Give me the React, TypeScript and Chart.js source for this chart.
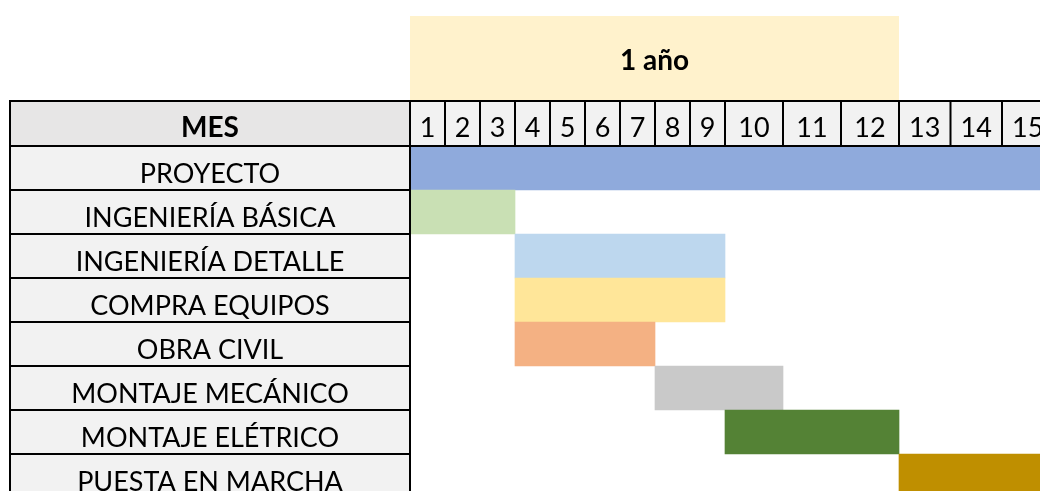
import React, { useEffect, useRef } from 'react';
import { Chart, registerables, LinearScale } from 'chart.js';

// ---------- data ----------
const tasks = [
  'PROYECTO',
  'INGENIERÍA BÁSICA',
  'INGENIERÍA DETALLE',
  'COMPRA EQUIPOS',
  'OBRA CIVIL',
  'MONTAJE MECÁNICO',
  'MONTAJE ELÉTRICO',
  'PUESTA EN MARCHA',
];
const startMonth = [1, 1, 4, 4, 4, 8, 10, 13];
const endMonth = [15, 3, 9, 9, 7, 10, 12, 15];
const monthLabels = ['1', '2', '3', '4', '5', '6', '7', '8', '9', '10', '11', '12', '13', '14', '15'];
const headerLabel = 'MES';
const yearLabel = '1 año';
const yearMonths = 12;
const barColors = ['#8FAADC', '#C9E0B4', '#BDD7EE', '#FFE699', '#F4B183', '#C9C9C9', '#548235', '#BF8F00'];

// ---------- layout (spreadsheet column widths in px) ----------
const columnWidths = [35, 35, 35, 35, 35, 35, 35, 35, 35, 58, 58, 58, 51.5, 51.5, 51.5];
const visibleGridWidth = 630;
const CANVAS_W = 1040;
const CANVAS_H = 500;
const TABLE_LEFT = 10;
const LABEL_COL_RIGHT = 410;
const BODY_TOP = 146;
const ROW_H = 44;
const FONT = 'Lato, "Open Sans", sans-serif';
const FONT_SIZE = 27;

function cumWidth(v: number): number {
  let x = 0;
  for (let i = 0; i < columnWidths.length; i++) {
    const w = columnWidths[i];
    if (v >= i + 1) x += w;
    else {
      x += w * Math.max(0, v - i);
      break;
    }
  }
  return x;
}

class MonthScale extends LinearScale {
  static id = 'monthScale';
  static defaults = { ...(LinearScale as any).defaults };
  getPixelForValue(value: number) {
    const s: any = this;
    return s.left + (cumWidth(value) * s.width) / visibleGridWidth;
  }
  getValueForPixel(pixel: number) {
    const s: any = this;
    const target = ((pixel - s.left) * visibleGridWidth) / s.width;
    let x = 0;
    for (let i = 0; i < columnWidths.length; i++) {
      if (x + columnWidths[i] >= target) return i + (target - x) / columnWidths[i];
      x += columnWidths[i];
    }
    return columnWidths.length;
  }
}

Chart.register(...registerables, MonthScale);

const tablePlugin = {
  id: 'sheetTable',
  beforeDatasetsDraw(chart: any) {
    const ctx = chart.ctx;
    const xs = chart.scales.x;
    const ys = chart.scales.y;
    const area = chart.chartArea;
    const rowH = ys.getPixelForValue(1) - ys.getPixelForValue(0);
    const headerTop = area.top - rowH - 1;
    const x0 = xs.getPixelForValue(0);
    const xYear = xs.getPixelForValue(yearMonths);
    ctx.save();
    // year band
    ctx.fillStyle = '#FFF2CC';
    ctx.fillRect(x0, headerTop - 85, xYear - x0, 85);
    ctx.fillStyle = '#000';
    ctx.font = `bold ${FONT_SIZE + 1}px ${FONT}`;
    ctx.textAlign = 'center';
    ctx.textBaseline = 'alphabetic';
    ctx.fillText(yearLabel, (x0 + xYear) / 2, 69.5);
    // header row
    ctx.fillStyle = '#E7E6E6';
    ctx.fillRect(TABLE_LEFT, headerTop, x0 - TABLE_LEFT, area.top - headerTop);
    ctx.fillStyle = '#F2F2F2';
    ctx.fillRect(x0, headerTop, area.right - x0, area.top - headerTop);
    // label column
    ctx.fillRect(TABLE_LEFT, area.top, x0 - TABLE_LEFT, area.bottom - area.top);
    // header texts
    ctx.fillStyle = '#000';
    ctx.font = `bold ${FONT_SIZE + 1}px ${FONT}`;
    ctx.fillText(headerLabel, (TABLE_LEFT + x0) / 2, area.top - 9);
    ctx.font = `${FONT_SIZE}px ${FONT}`;
    monthLabels.forEach((m, i) => {
      const a = xs.getPixelForValue(i);
      const b = xs.getPixelForValue(i + 1);
      ctx.fillText(m, (a + b) / 2, area.top - 9);
    });
    // task labels
    tasks.forEach((t, i) => {
      const yc = ys.getPixelForValue(i);
      ctx.fillText(t, (TABLE_LEFT + x0) / 2, yc + rowH / 2 - 7);
    });
    ctx.restore();
  },
  afterDatasetsDraw(chart: any) {
    const ctx = chart.ctx;
    const xs = chart.scales.x;
    const ys = chart.scales.y;
    const area = chart.chartArea;
    const rowH = ys.getPixelForValue(1) - ys.getPixelForValue(0);
    const headerTop = area.top - rowH - 1;
    const x0 = xs.getPixelForValue(0);
    ctx.save();
    ctx.strokeStyle = '#000';
    ctx.lineWidth = 2;
    ctx.beginPath();
    // horizontal header lines
    ctx.moveTo(TABLE_LEFT, headerTop);
    ctx.lineTo(area.right, headerTop);
    ctx.moveTo(TABLE_LEFT, area.top);
    ctx.lineTo(area.right, area.top);
    // row lines in label column
    for (let i = 1; i <= tasks.length; i++) {
      const y = area.top + i * rowH;
      ctx.moveTo(TABLE_LEFT, y);
      ctx.lineTo(x0, y);
    }
    // verticals
    ctx.moveTo(TABLE_LEFT, headerTop - 1);
    ctx.lineTo(TABLE_LEFT, area.bottom);
    ctx.moveTo(x0, headerTop - 1);
    ctx.lineTo(x0, area.bottom);
    for (let i = 1; i <= monthLabels.length; i++) {
      const x = xs.getPixelForValue(i);
      ctx.moveTo(x, headerTop);
      ctx.lineTo(x, area.top);
    }
    ctx.stroke();
    ctx.restore();
  },
};

export default function App() {
  const ref = useRef<HTMLCanvasElement | null>(null);
  useEffect(() => {
    if (!ref.current) return;
    const chart = new Chart(ref.current, {
      type: 'bar',
      data: {
        labels: tasks,
        datasets: [
          {
            label: 'Meses',
            data: tasks.map((_, i) => [startMonth[i] - 1, endMonth[i]]) as any,
            backgroundColor: barColors,
            borderWidth: 0,
            borderSkipped: false,
            barPercentage: 1,
            categoryPercentage: 1,
          },
        ],
      },
      options: {
        indexAxis: 'y',
        responsive: false,
        animation: false,
        devicePixelRatio: 1,
        layout: {
          padding: { left: LABEL_COL_RIGHT, top: BODY_TOP, right: 0, bottom: CANVAS_H - (BODY_TOP + ROW_H * tasks.length) },
        },
        scales: {
          x: { type: 'monthScale' as any, min: 0, max: 15, display: false },
          y: { type: 'category', display: false, offset: true },
        },
        plugins: {
          legend: { display: false },
          tooltip: { enabled: false },
        },
      },
      plugins: [tablePlugin],
    });
    return () => chart.destroy();
  }, []);
  return (
    <div style={{ position: 'fixed', left: 0, top: 0, width: CANVAS_W, height: 491, overflow: 'hidden', background: '#fff' }}>
      <canvas ref={ref} width={CANVAS_W} height={CANVAS_H} style={{ display: 'block' }} />
    </div>
  );
}
